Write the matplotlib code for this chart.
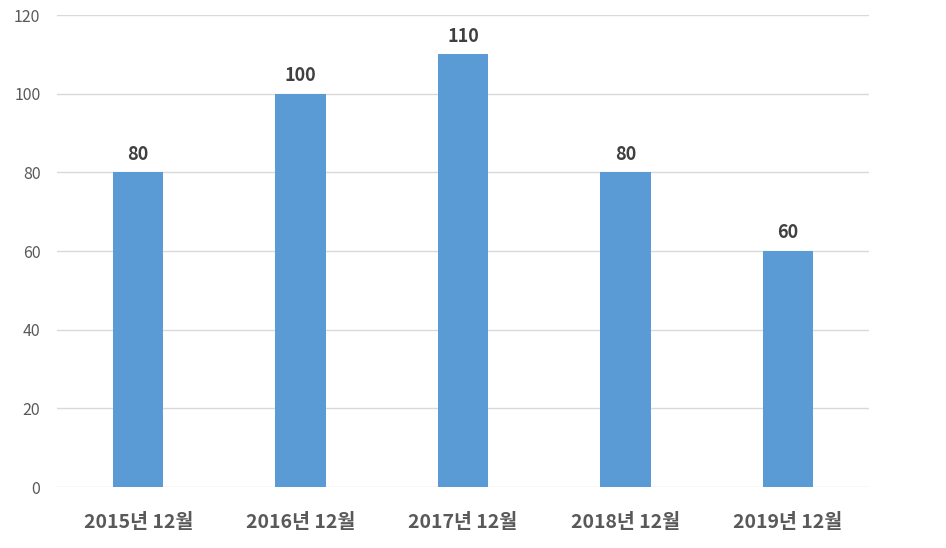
import matplotlib.pyplot as plt

plt.rcParams['font.family'] = ['Noto Sans CJK KR', 'DejaVu Sans']

categories = ['2015년 12월', '2016년 12월', '2017년 12월', '2018년 12월', '2019년 12월']
values = [80, 100, 110, 80, 60]
y_ticks = [0, 20, 40, 60, 80, 100, 120]

bar_color = '#5B9BD5'
text_color = '#595959'

fig = plt.figure(figsize=(9.46, 5.48), dpi=100)
ax = fig.add_axes([0.0603, 0.1113, 0.8583, 0.8613])

x = range(len(categories))
bars = ax.bar(x, values, width=0.31, color=bar_color, zorder=2)

for b, v in zip(bars, values):
    ax.text(
        b.get_x() + b.get_width() / 2,
        v + 2.2,
        str(v),
        ha='center',
        va='bottom',
        fontsize=13,
        fontweight='bold',
        color='#404040',
    )

ax.set_xlim(-0.5, len(categories) - 0.5)
ax.set_ylim(0, 120)
ax.set_yticks(y_ticks)
ax.set_xticks(list(x))
ax.set_xticklabels(categories, fontsize=14, fontweight='bold', color=text_color)
ax.tick_params(axis='y', labelsize=11.5, labelcolor=text_color, length=0, pad=12)
ax.tick_params(axis='x', length=0, pad=19)

ax.grid(axis='y', color='#D9D9D9', linewidth=1, zorder=0)
for s in ax.spines.values():
    s.set_visible(False)

fig.savefig('out.png', dpi=100)
